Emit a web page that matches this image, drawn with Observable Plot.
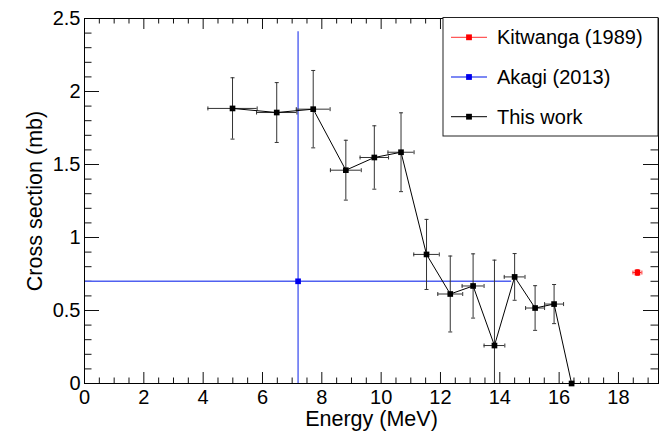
<!DOCTYPE html>
<html><head><meta charset="utf-8">
<script src="https://cdn.jsdelivr.net/npm/d3@7"></script>
<script src="https://cdn.jsdelivr.net/npm/@observablehq/plot@0.6"></script>
<style>
html,body{margin:0;padding:0;background:#fff;}
#chart{position:relative;width:665px;height:431px;}
#chart svg{display:block;}
</style></head><body><div id="chart"></div>
<script>
// ---- data ----
const thisEnergy    = [4.99, 6.48, 7.71, 8.81, 9.77, 10.67, 11.53, 12.33, 13.10, 13.82, 14.50, 15.19, 15.83, 16.42];
const thisEnergyErr = [0.83, 0.68, 0.57, 0.52, 0.48, 0.44, 0.43, 0.42, 0.37, 0.35, 0.35, 0.32, 0.32, 0.30];
const thisXS        = [1.884, 1.856, 1.879, 1.461, 1.548, 1.584, 0.884, 0.613, 0.668, 0.260, 0.730, 0.517, 0.544, 0.0];
const thisXSErr     = [0.210, 0.205, 0.265, 0.205, 0.217, 0.270, 0.240, 0.260, 0.220, 0.585, 0.160, 0.153, 0.134, 0.0];

const akagiEnergy = [7.2],  akagiEnergyErr = [7.2],  akagiXS = [0.70], akagiXSErr = [1.71];
const kitEnergy   = [18.64], kitEnergyErr  = [0.15], kitXS   = [0.76], kitXSErr   = [0.02];

const legendNames  = ["Kitwanga (1989)", "Akagi (2013)", "This work"];
const legendColors = ["#ff0000", "#0000ee", "#000000"];
const legendLines  = ["#ff3030", "#5060f0", "#000000"];

const xMajor = [0, 2, 4, 6, 8, 10, 12, 14, 16, 18];
const xMinor = d3.range(0, 19.01, 0.5);
const yMajor = [0, 0.5, 1, 1.5, 2, 2.5];
const yMinor = d3.range(0, 2.501, 0.1);

// ---- layout ----
const W = 665, H = 431, mL = 84, mR = 7, mT = 18, mB = 48;
const innerW = W - mL - mR, innerH = H - mT - mB;
const xDomain = [0, 19.35], yDomain = [0, 2.5];
// tick lengths: pixels converted to axis units
const pxX = (xDomain[1] - xDomain[0]) / innerW, pxY = (yDomain[1] - yDomain[0]) / innerH;
const yTickMinor = 7.5 * pxX, yTickMajor = 15 * pxX;
const xTickMinor = 5.5 * pxY, xTickMajor = 11 * pxY;

const rows = (E, dE, S, dS) => E.map((e, i) => ({x: e, dx: dE[i], y: S[i], dy: dS[i]}));
const thisWork = rows(thisEnergy, thisEnergyErr, thisXS, thisXSErr);
const akagi = rows(akagiEnergy, akagiEnergyErr, akagiXS, akagiXSErr);
const kit = rows(kitEnergy, kitEnergyErr, kitXS, kitXSErr);

const capH = {draw(ctx) { ctx.moveTo(-2, 0); ctx.lineTo(2, 0); }};
const capV = {draw(ctx) { ctx.moveTo(0, -2); ctx.lineTo(0, 2); }};

function errorMarks(data, color, width, caps) {
  const m = [
    Plot.ruleX(data, {x: "x", y1: d => d.y - d.dy, y2: d => d.y + d.dy, stroke: color, strokeWidth: width, clip: true}),
    Plot.ruleY(data, {y: "y", x1: d => d.x - d.dx, x2: d => d.x + d.dx, stroke: color, strokeWidth: width, clip: true})
  ];
  if (caps) {
    const yd = data.filter(d => d.dy > 0), xd = data.filter(d => d.dx > 0);
    m.push(
      Plot.dot(yd, {x: "x", y: d => d.y + d.dy, symbol: capH, stroke: color, fill: "none", strokeWidth: width, clip: true}),
      Plot.dot(yd, {x: "x", y: d => d.y - d.dy, symbol: capH, stroke: color, fill: "none", strokeWidth: width, clip: true}),
      Plot.dot(xd, {x: d => d.x + d.dx, y: "y", symbol: capV, stroke: color, fill: "none", strokeWidth: width, clip: true}),
      Plot.dot(xd, {x: d => d.x - d.dx, y: "y", symbol: capV, stroke: color, fill: "none", strokeWidth: width, clip: true})
    );
  }
  return m;
}

const isMajor = (v, majors) => majors.some(m => Math.abs(m - v) < 1e-9);
const tickColor = "#111";
const yTickRows = yMinor.map(v => ({v, len: isMajor(v, yMajor) ? yTickMajor : yTickMinor}));
const xTickRows = xMinor.map(v => ({v, len: isMajor(v, xMajor) ? xTickMajor : xTickMinor}));

const plot = Plot.plot({
  width: W, height: H,
  marginLeft: mL, marginRight: mR, marginTop: mT, marginBottom: mB,
  style: {fontFamily: "'Liberation Sans', Arial, Helvetica, sans-serif", fontSize: "20px", background: "white"},
  x: {domain: xDomain},
  y: {domain: yDomain},
  marks: [
    // inward ticks, ROOT style, on all four sides
    Plot.ruleY(yTickRows, {y: "v", x1: xDomain[0], x2: d => xDomain[0] + d.len, stroke: tickColor, strokeWidth: 1}),
    Plot.ruleY(yTickRows, {y: "v", x1: xDomain[1], x2: d => xDomain[1] - d.len, stroke: tickColor, strokeWidth: 1}),
    Plot.ruleX(xTickRows, {x: "v", y1: yDomain[0], y2: d => yDomain[0] + d.len, stroke: tickColor, strokeWidth: 1}),
    Plot.ruleX(xTickRows, {x: "v", y1: yDomain[1], y2: d => yDomain[1] - d.len, stroke: tickColor, strokeWidth: 1}),
    Plot.axisY(yMajor, {tickSize: 0, tickPadding: 4, fontSize: 20, tickFormat: d => String(d), label: null}),
    Plot.axisX(xMajor, {tickSize: 0, tickPadding: 6, fontSize: 20, tickFormat: d => String(d), label: null}),
    Plot.text(["Cross section (mb)"], {text: d => d, frameAnchor: "left", rotate: -90, dx: -49, fontSize: 21.5, textAnchor: "middle", lineAnchor: "middle"}),
    Plot.text(["Energy (MeV)"], {text: d => d, frameAnchor: "bottom", dy: 36, fontSize: 21.5, textAnchor: "middle", lineAnchor: "middle"}),
    // Akagi (2013)
    ...errorMarks(akagi, "#5060f0", 1.4, false),
    Plot.dot(akagi, {x: "x", y: "y", symbol: "square", r: 3.2, fill: "#0000ee"}),
    // This work
    ...errorMarks(thisWork, "#333", 1, true),
    Plot.line(thisWork, {x: "x", y: "y", stroke: "black", strokeWidth: 1}),
    Plot.dot(thisWork, {x: "x", y: "y", symbol: "square", r: 3.2, fill: "black"}),
    // Kitwanga (1989)
    ...errorMarks(kit, "#ff3030", 1, true),
    Plot.dot(kit, {x: "x", y: "y", symbol: "square", r: 3.2, fill: "#ff0000"}),
    Plot.frame({stroke: "black", strokeWidth: 1})
  ]
});

document.getElementById("chart").appendChild(plot);

// ---- legend (top-right, inside frame) ----
const svg = d3.select(plot);
const lg = svg.append("g")
  .attr("font-family", "'Liberation Sans', Arial, Helvetica, sans-serif")
  .attr("font-size", 20).attr("text-anchor", "start");
const lx = 443, ly = 17.5, lw = W - mR - lx, lh = 118.5;
lg.append("rect").attr("x", lx).attr("y", ly).attr("width", lw).attr("height", lh)
  .attr("fill", "white").attr("stroke", "#222").attr("stroke-width", 1);
legendNames.forEach((name, i) => {
  const cy = 37.3 + i * 39.7;
  lg.append("line").attr("x1", 451).attr("x2", 487).attr("y1", cy).attr("y2", cy)
    .attr("stroke", legendLines[i]).attr("stroke-width", i === 1 ? 1.4 : 1);
  lg.append("rect").attr("x", 469 - 2.9).attr("y", cy - 2.9).attr("width", 5.8).attr("height", 5.8)
    .attr("fill", legendColors[i]);
  lg.append("text").attr("x", 497).attr("y", cy).attr("dy", "0.35em")
    .attr("text-anchor", "start").attr("fill", "black").text(name);
});
</script>
</body></html>
